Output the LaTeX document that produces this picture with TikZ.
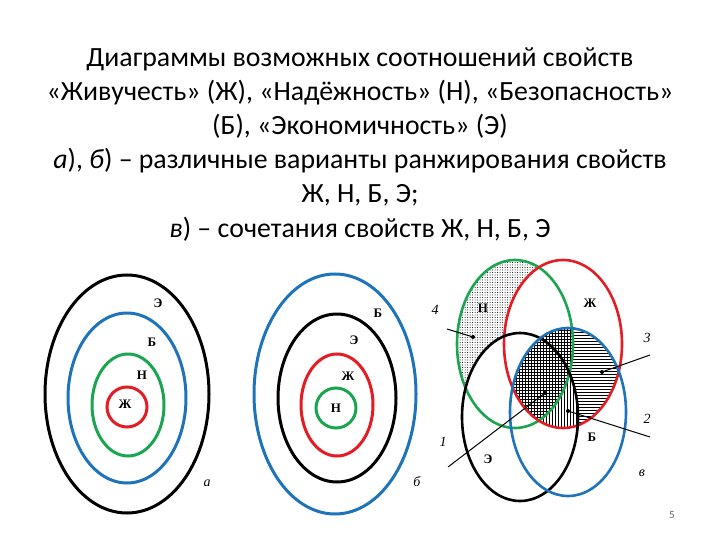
\documentclass[tikz,border=0pt]{standalone}
\usepackage{fontspec}
\setmainfont{Liberation Serif}
\newfontfamily\titlefont{Carlito}
\usetikzlibrary{patterns}
\definecolor{myred}{RGB}{228,28,36}
\definecolor{mygreen}{RGB}{28,165,80}
\definecolor{myblue}{RGB}{30,115,185}
\pgfdeclarepatternformonly{mydots}{\pgfqpoint{-1pt}{-1pt}}{\pgfqpoint{1pt}{1pt}}{\pgfqpoint{2.5pt}{2.5pt}}{\pgfpathcircle{\pgfqpoint{0pt}{0pt}}{.5pt}\pgfusepath{fill}}
\begin{document}
\begin{tikzpicture}[x=1pt,y=-1pt,
  title/.style={font=\titlefont\fontsize{27.8}{30}\selectfont, inner sep=0pt, anchor=base},
  lbl/.style={font=\fontsize{13}{13}\selectfont\bfseries, inner sep=0pt},
  num/.style={font=\fontsize{14}{14}\selectfont\itshape, inner sep=0pt},
  ring/.style={line width=3pt},
  vring/.style={line width=2.6pt},
  ptr/.style={line width=1pt},
  pdot/.style={circle, fill=black, inner sep=0pt, minimum size=4pt},
  ellN/.style={insert path={(515,344) ellipse [x radius=58pt, y radius=84pt]}},
  ellZ/.style={insert path={(563,344) ellipse [x radius=59pt, y radius=84pt]}},
  ellE/.style={insert path={(520,417) ellipse [x radius=58pt, y radius=84pt]}},
  ellB/.style={insert path={(568,412) ellipse [x radius=58pt, y radius=84pt]}}
]
\useasboundingbox (0,0) rectangle (720,540);

% title
\node[title] (t1) at (360,67) {Диаграммы возможных соотношений свойств};
\node[title] (t2) at (360,101) {«Живучесть» (Ж), «Надёжность» (Н), «Безопасность»};
\node[title] (t3) at (360,135) {(Б), «Экономичность» (Э)};
\node[title] (t4) at (360,169) {{\itshape а}), {\itshape б}) – различные варианты ранжирования свойств};
\node[title] (t5) at (360,203) {Ж, Н, Б, Э;};
\node[title] (t6) at (360,237) {{\itshape в}) – сочетания свойств Ж, Н, Б, Э};

% diagram a
\draw[ring,black] (127,394) ellipse [x radius=82pt, y radius=119pt];
\draw[ring,myblue] (127,398) ellipse [x radius=59pt, y radius=85pt];
\draw[ring,mygreen] (128,405) ellipse [x radius=36pt, y radius=51pt];
\draw[ring,myred] (127,407) ellipse [x radius=20pt, y radius=20pt];
\node[lbl] (aE) at (158,303) {Э};
\node[lbl] (aB) at (152,342) {Б};
\node[lbl] (aN) at (142,375) {Н};
\node[lbl] (aZ) at (125,404) {Ж};
\node[num] (aa) at (207,483) {а};

% diagram b
\draw[ring,myblue] (335,394) ellipse [x radius=81pt, y radius=120pt];
\draw[ring,black] (337,398) ellipse [x radius=59pt, y radius=84pt];
\draw[ring,myred] (337,405) ellipse [x radius=36pt, y radius=51pt];
\draw[ring,mygreen] (336,408) ellipse [x radius=20pt, y radius=20pt];
\node[lbl] (bB) at (378,313) {Б};
\node[lbl] (bE) at (354,340) {Э};
\node[lbl] (bZ) at (348,376) {Ж};
\node[lbl] (bN) at (336,408) {Н};
\node[num] (bb) at (417,482) {б};

% diagram v : patterns
\begin{scope}
  \clip[ellN];
  \fill[pattern=mydots] (440,250) rectangle (640,520);
  \fill[white][ellZ];
  \fill[white][ellE];
\end{scope}
\begin{scope}
  \clip[ellZ];
  \clip[ellB];
  \fill[white] (440,250) rectangle (640,520);
  \fill[pattern=horizontal lines] (440,250) rectangle (640,520);
\end{scope}
\begin{scope}
  \clip[ellZ];
  \clip[ellB];
  \clip[ellE];
  \fill[white] (440,250) rectangle (640,520);
  \fill[pattern=vertical lines] (440,250) rectangle (640,520);
\end{scope}
\begin{scope}
  \clip[ellZ];
  \clip[ellB];
  \clip[ellN];
  \fill[white] (440,250) rectangle (640,520);
  \fill[pattern=grid] (440,250) rectangle (640,520);
\end{scope}

% outlines
\draw[vring,mygreen][ellN];
\draw[vring,myred][ellZ];
\draw[vring,black][ellE];
\draw[vring,myblue][ellB];

% pointers
\node[pdot] (d4) at (473,337) {};
\node[pdot] (d1) at (545,393) {};
\node[pdot] (d3) at (602,372) {};
\node[pdot] (d2) at (568,411) {};
\coordinate (e4) at (447,329);
\coordinate (e1) at (448,467);
\coordinate (e3) at (650,355);
\coordinate (e2) at (650,437);
\draw[ptr] (e4) -- (d4.center);
\draw[ptr] (e1) -- (d1.center);
\draw[ptr] (e3) -- (d3.center);
\draw[ptr] (e2) -- (d2.center);
\node[num] (n4) at (435,310) {4};
\node[num] (n1) at (443,442) {1};
\node[num] (n3) at (647,338) {3};
\node[num] (n2) at (647,419) {2};

\node[lbl] (vN) at (483,308) {Н};
\node[lbl] (vZ) at (590,303) {Ж};
\node[lbl] (vB) at (592,437) {Б};
\node[lbl] (vE) at (488,459) {Э};
\node[num] (vv) at (642,473) {в};

\node[font=\titlefont\fontsize{11}{11}\selectfont, text=black!60, inner sep=0pt] (pg) at (672,515) {5};
\end{tikzpicture}
\end{document}
